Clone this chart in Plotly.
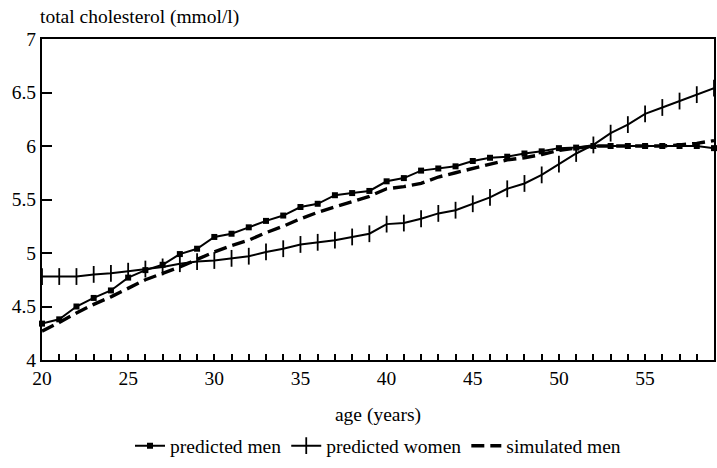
import plotly.graph_objects as go

# Age in years
ages = list(range(20, 60))

# Total cholesterol (mmol/l) by age
predicted_men = [4.34, 4.38, 4.50, 4.58, 4.65, 4.77, 4.84, 4.89, 4.99, 5.04,
                 5.15, 5.18, 5.24, 5.30, 5.35, 5.43, 5.46, 5.54, 5.56, 5.58,
                 5.67, 5.70, 5.77, 5.79, 5.81, 5.86, 5.89, 5.90, 5.93, 5.95,
                 5.98, 5.985, 6.00, 6.00, 6.00, 6.00, 6.00, 6.00, 6.00, 5.98]
predicted_women = [4.78, 4.78, 4.78, 4.80, 4.81, 4.83, 4.85, 4.87, 4.90, 4.92,
                   4.93, 4.95, 4.97, 5.01, 5.04, 5.08, 5.10, 5.12, 5.15, 5.18,
                   5.27, 5.28, 5.32, 5.37, 5.40, 5.46, 5.52, 5.60, 5.65, 5.73,
                   5.83, 5.93, 6.01, 6.12, 6.20, 6.30, 6.36, 6.42, 6.48, 6.54]
simulated_men = [4.27, 4.35, 4.44, 4.52, 4.59, 4.67, 4.75, 4.81, 4.87, 4.94,
                 5.01, 5.07, 5.12, 5.19, 5.25, 5.32, 5.38, 5.43, 5.48, 5.53,
                 5.60, 5.62, 5.65, 5.71, 5.75, 5.79, 5.83, 5.87, 5.89, 5.92,
                 5.96, 5.98, 6.00, 6.00, 6.00, 6.00, 6.00, 6.01, 6.025, 6.05]

y_ticks = [4, 4.5, 5, 5.5, 6, 6.5, 7]
x_ticks = [20, 25, 30, 35, 40, 45, 50, 55]

FONT = "Liberation Serif"
FS = 19.5

fig = go.Figure()
fig.add_trace(go.Scatter(
    x=ages, y=predicted_men, name="predicted men", mode="lines+markers",
    line=dict(color="black", width=2),
    marker=dict(symbol="square", size=6, color="black"),
    cliponaxis=False,
))
fig.add_trace(go.Scatter(
    x=ages, y=predicted_women, name="predicted women", mode="lines+markers",
    line=dict(color="black", width=2),
    marker=dict(symbol="line-ns", size=12, line=dict(color="black", width=1.8)),
    cliponaxis=False,
))
fig.add_trace(go.Scatter(
    x=ages, y=simulated_men, name="simulated men", mode="lines",
    line=dict(color="black", width=3.4, dash="13px,6px"),
    cliponaxis=False,
))

fig.update_layout(
    width=717, height=468,
    margin=dict(l=42, r=3, t=39, b=108, autoexpand=False),
    paper_bgcolor="white", plot_bgcolor="white",
    font=dict(family=FONT, size=FS, color="black"),
    showlegend=True,
    title=dict(text="total cholesterol (mmol/l)", xref="paper", x=0, xanchor="left",
               yref="container", y=1 - 16 / 468, yanchor="middle",
               pad=dict(l=-2), font=dict(family=FONT, size=FS)),
    legend=dict(orientation="h", x=0.5, xanchor="center",
                yref="container", y=22 / 468, yanchor="middle",
                font=dict(family=FONT, size=FS), itemwidth=30,
                tracegroupgap=0),
)
fig.update_xaxes(
    range=[20, 59], tickvals=x_ticks, ticks="inside", ticklen=6, tickwidth=1.5,
    minor=dict(dtick=1, ticks="inside", ticklen=6, tickwidth=1.5, tickcolor="black"),
    showgrid=False, zeroline=False, showline=True, linecolor="black", linewidth=2,
    mirror=True, tickcolor="black", ticklabelstandoff=0,
    tickfont=dict(family=FONT, size=FS),
    title=dict(text="age (years)", font=dict(family=FONT, size=FS), standoff=20),
)
fig.update_yaxes(
    range=[4, 7], tickvals=y_ticks, ticks="inside", ticklen=10, tickwidth=2,
    showgrid=False, zeroline=False, showline=True, linecolor="black", linewidth=2,
    mirror=True, tickcolor="black",
    tickfont=dict(family=FONT, size=FS),
)

fig.write_html("out.html")
